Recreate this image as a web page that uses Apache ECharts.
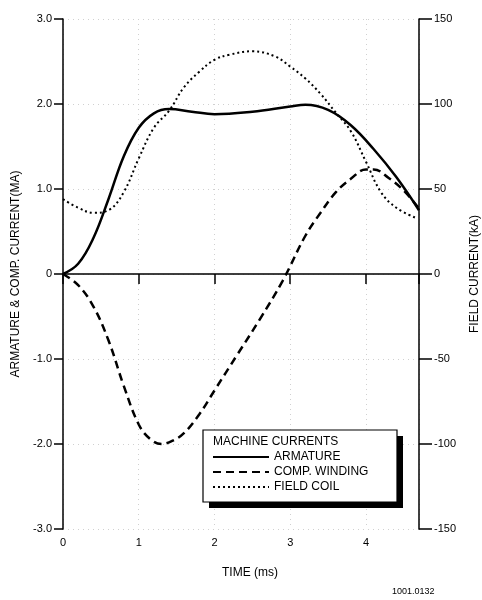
<!DOCTYPE html>
<html>
<head>
<meta charset="utf-8">
<script src="https://cdn.jsdelivr.net/npm/echarts@6/dist/echarts.min.js"></script>
<style>
  html, body { margin: 0; padding: 0; background: #fff; }
  #chart { width: 482px; height: 600px; }
</style>
</head>
<body>
<div id="chart"></div>
<script>
// time (ms) and armature current (MA)
var armTime = [0, 0.2, 0.4, 0.6, 0.8, 1.0, 1.2, 1.4, 1.7, 2.0, 2.5, 3.0, 3.2, 3.5, 3.8, 4.1, 4.4, 4.7];
var armature = [0, 0.12, 0.42, 0.88, 1.38, 1.72, 1.89, 1.94, 1.91, 1.88, 1.91, 1.97, 1.99, 1.93, 1.75, 1.47, 1.14, 0.75];

// comp. winding current (MA)
var compTime = [0, 0.2, 0.4, 0.6, 0.8, 1.0, 1.15, 1.3, 1.45, 1.6, 1.8, 2.0, 2.3, 2.6, 2.9, 3.2, 3.4, 3.6, 3.8, 4.0, 4.1, 4.3, 4.5, 4.7];
var compWinding = [0, -0.13, -0.38, -0.78, -1.31, -1.77, -1.94, -2.0, -1.96, -1.87, -1.65, -1.37, -0.95, -0.53, -0.08, 0.45, 0.72, 0.96, 1.12, 1.23, 1.23, 1.13, 0.98, 0.77];

// field coil current (kA), right axis
var fieldTime = [0, 0.2, 0.4, 0.6, 0.8, 1.0, 1.2, 1.4, 1.6, 1.8, 2.0, 2.2, 2.5, 2.8, 3.0, 3.2, 3.4, 3.6, 3.8, 4.0, 4.2, 4.4, 4.66];
var fieldCoil = [44, 39, 36, 37.5, 48, 68, 86, 96, 110, 119, 126, 129, 131, 128, 122, 115, 106, 95, 84, 66, 48, 39, 33];

var timeTicks = [0, 1, 2, 3, 4];

var pairs = function (xs, ys) {
    var out = [];
    for (var i = 0; i < xs.length; i++) {
        out.push([xs[i], ys[i]]);
    }
    return out;
};

var FONT = '"Liberation Sans", Arial, sans-serif';
var gridLine = { show: true, lineStyle: { color: '#d0d0d0', type: [1, 4], width: 1 } };

var myChart = echarts.init(document.getElementById('chart'));

var option = {
    animation: false,
    backgroundColor: '#fff',
    textStyle: { fontFamily: FONT, color: '#000' },
    grid: { left: 63, right: 63, top: 19, bottom: 71, outerBoundsMode: 'none', containLabel: false },
    xAxis: {
        type: 'value',
        min: 0,
        max: 4.7,
        interval: 1,
        name: 'TIME (ms)',
        nameLocation: 'middle',
        nameGap: 38,
        nameTextStyle: { fontSize: 12, fontFamily: FONT, color: '#000', padding: [0, 0, 0, 18] },
        axisLine: { lineStyle: { color: '#000', width: 1.5 } },
        axisTick: { inside: false, length: 10, lineStyle: { color: '#000', width: 1.5 } },
        axisLabel: {
            margin: 8, fontSize: 11, fontFamily: FONT, color: '#000',
            formatter: function (v) { return timeTicks.indexOf(v) >= 0 ? String(v) : ''; }
        },
        splitLine: gridLine
    },
    yAxis: [{
        type: 'value',
        position: 'left',
        min: -3,
        max: 3,
        interval: 1,
        name: 'ARMATURE & COMP. CURRENT(MA)',
        nameLocation: 'middle',
        nameGap: 37,
        nameRotate: 90,
        nameTextStyle: { fontSize: 12, fontFamily: FONT, color: '#000' },
        axisLine: { show: true, lineStyle: { color: '#000', width: 1.5 } },
        axisTick: { show: true, length: 9, lineStyle: { color: '#000', width: 1.5 } },
        axisLabel: {
            margin: 11, fontSize: 11, fontFamily: FONT, color: '#000',
            formatter: function (v) { return v === 0 ? '0' : v.toFixed(1); }
        },
        splitLine: gridLine
    }, {
        type: 'value',
        position: 'right',
        min: -150,
        max: 150,
        interval: 50,
        name: 'FIELD CURRENT(kA)',
        nameLocation: 'middle',
        nameGap: 50,
        nameRotate: 90,
        nameTextStyle: { fontSize: 12, fontFamily: FONT, color: '#000' },
        axisLine: { show: true, lineStyle: { color: '#000', width: 1.5 } },
        axisTick: { show: true, length: 13, lineStyle: { color: '#000', width: 1.5 } },
        axisLabel: { margin: 15, fontSize: 11, fontFamily: FONT, color: '#000' },
        splitLine: { show: false }
    }],
    legend: {
        orient: 'vertical',
        left: 212,
        top: 451,
        z: 100,
        itemWidth: 56,
        itemHeight: 12,
        itemGap: 3,
        padding: 0,
        itemStyle: { opacity: 0 },
        textStyle: { fontSize: 12, fontFamily: FONT, color: '#000' },
        data: ['ARMATURE', 'COMP. WINDING', 'FIELD COIL']
    },
    graphic: [{
        type: 'rect',
        shape: { x: 209, y: 436, width: 194, height: 72 },
        style: { fill: '#000' },
        z: 50
    }, {
        type: 'rect',
        shape: { x: 203, y: 430, width: 194, height: 72 },
        style: { fill: '#fff', stroke: '#000', lineWidth: 1.2 },
        z: 51
    }, {
        type: 'text',
        left: 213,
        top: 436,
        style: { text: 'MACHINE CURRENTS', font: '12px ' + FONT, fill: '#000' },
        z: 52
    }, {
        type: 'text',
        left: 392,
        top: 587,
        style: { text: '1001.0132', font: '9px ' + FONT, fill: '#000' },
        z: 52
    }],
    series: [{
        name: 'ARMATURE',
        type: 'line',
        yAxisIndex: 0,
        smooth: 0.4,
        symbol: 'none',
        lineStyle: { color: '#000', width: 2.5, type: 'solid' },
        itemStyle: { color: '#000' },
        data: pairs(armTime, armature)
    }, {
        name: 'COMP. WINDING',
        type: 'line',
        yAxisIndex: 0,
        smooth: 0.4,
        symbol: 'none',
        lineStyle: { color: '#000', width: 2.5, type: [8, 5] },
        itemStyle: { color: '#000' },
        data: pairs(compTime, compWinding)
    }, {
        name: 'FIELD COIL',
        type: 'line',
        yAxisIndex: 1,
        smooth: 0.4,
        symbol: 'none',
        lineStyle: { color: '#000', width: 2, type: [2, 3] },
        itemStyle: { color: '#000' },
        data: pairs(fieldTime, fieldCoil)
    }]
};

myChart.setOption(option);
</script>
</body>
</html>
